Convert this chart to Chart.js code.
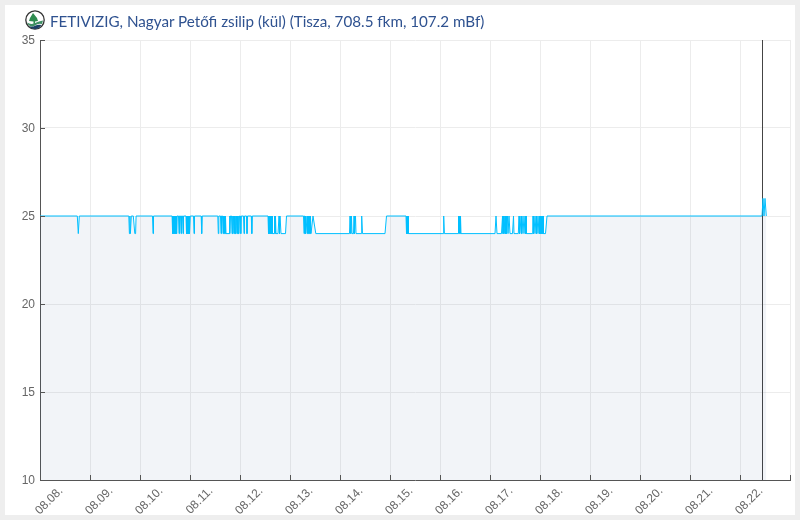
<!DOCTYPE html>
<html>
<head>
<meta charset="utf-8">
<script src="https://cdn.jsdelivr.net/npm/chart.js@4"></script>
<style>
  html, body { margin: 0; padding: 0; background: #eeeeee; }
  #panel { position: absolute; left: 5px; top: 5px; width: 790px; height: 510px; background: #fff; }
  #wrap { position: absolute; left: 0; top: 0; width: 800px; height: 520px; }
  #title { position: absolute; left: 25px; top: 10px; height: 20px; font: 15.2px Lato, sans-serif; color: #2f5290; white-space: nowrap; }
  #title svg { position: absolute; left: 0; top: 0; }
  #title span { position: absolute; left: 25px; top: 2px; }
</style>
</head>
<body>
<div id="panel"></div>
<div id="wrap"><canvas id="chart" width="800" height="520"></canvas></div>
<div id="title">
  <svg width="20" height="20" viewBox="0 0 20 20">
    <circle cx="10" cy="10" r="9.2" fill="#fff" stroke="#333" stroke-width="1.3"/>
    <path d="M8 3 L12 8 L13 11 L10 11.5 L10 14 L8.5 14 L8.5 11.5 L4 11 L5 8 Z" fill="#2e8b4f"/>
    <path d="M2 12.5 Q6 15 10 13 T18 10.5 L17 14 Q13 13 10 15.5 T3.5 15 Z" fill="#3f8f63"/>
    <path d="M4 16 Q7 17.5 10 15.8 T16.5 15 Q13 19.5 10 19 Q6 19 4 16 Z" fill="#1c3f66"/>
  </svg>
  <span>FETIVIZIG, Nagyar Petőfi zsilip (kül) (Tisza, 708.5 fkm, 107.2 mBf)</span>
</div>
<script>
const dayLabels = ['08.08.', '08.09.', '08.10.', '08.11.', '08.12.', '08.13.', '08.14.', '08.15.', '08.16.', '08.17.', '08.18.', '08.19.', '08.20.', '08.21.', '08.22.'];
const yTicks = [10, 15, 20, 25, 30, 35];
const markerDay = 14.45;

// water level readings, day offset from 08.08. and level, row by row
const readingDays = [
  0, 0.746, 0.766, 0.786,
  1.776, 1.788, 1.798, 1.808, 1.826, 1.866, 1.896, 1.912, 1.922,
  2.25, 2.26, 2.27,
  2.642, 2.652, 2.662, 2.672, 2.682, 2.692, 2.702, 2.712, 2.722, 2.732, 2.742,
  2.77, 2.78, 2.79, 2.81, 2.82, 2.83, 2.85, 2.86, 2.87,
  2.92, 2.93, 2.94, 2.95, 2.96, 2.97, 2.98, 2.984, 2.996, 3.006,
  3.07, 3.08, 3.09, 3.224, 3.234, 3.244, 3.556, 3.566, 3.576, 3.61, 3.62, 3.63,
  3.65, 3.66, 3.67, 3.68, 3.69, 3.70, 3.71, 3.72, 3.78, 3.79, 3.80, 3.81,
  3.83, 3.84, 3.85, 3.86, 3.87, 3.88, 3.89, 3.90, 3.91, 3.92, 3.93, 3.94, 3.95, 3.96, 3.97, 3.98, 3.99,
  4.006, 4.016, 4.026, 4.07, 4.08, 4.09, 4.13, 4.14, 4.15, 4.226, 4.236, 4.246,
  4.56, 4.57, 4.58, 4.59, 4.60, 4.61, 4.62, 4.63, 4.64, 4.65, 4.68, 4.69, 4.70, 4.71, 4.72,
  4.76, 4.78, 4.79, 4.80, 4.82, 4.91, 4.93,
  5.27, 5.28, 5.29, 5.30, 5.31, 5.32,
  5.33, 5.34, 5.35, 5.36, 5.37, 5.38, 5.39, 5.40, 5.41, 5.42, 5.46, 5.516,
  6.19, 6.20, 6.21, 6.22, 6.23, 6.24, 6.27, 6.28, 6.29, 6.31, 6.32, 6.42, 6.434, 6.45, 6.90, 6.93,
  7.32, 7.33, 7.34, 7.35, 7.36, 7.37, 7.38,
  8.06, 8.074, 8.088, 8.36, 8.37, 8.38, 8.39, 8.40, 8.41, 8.42,
  9.10, 9.12, 9.14,
  9.23, 9.25, 9.26, 9.27, 9.28, 9.30, 9.31, 9.32, 9.33, 9.35, 9.36, 9.38, 9.40, 9.45, 9.47, 9.48,
  9.566, 9.58, 9.59, 9.60, 9.62, 9.63, 9.64, 9.66, 9.68, 9.70, 9.71, 9.72, 9.73,
  9.854, 9.86, 9.87, 9.88, 9.90, 9.92, 9.93, 9.94, 9.96, 9.98, 9.99, 10.00, 10.01, 10.02, 10.03, 10.04, 10.05, 10.06, 10.07,
  10.11, 10.14,
  14.44, 14.46, 14.48, 14.50, 14.526
];
const readingLevels = [
  25, 25, 24, 25,
  25, 24, 25, 24, 25, 25, 24, 24, 25,
  25, 24, 25,
  25, 24, 25, 24, 25, 24, 25, 24, 25, 24, 25,
  25, 24, 25, 25, 24, 25, 25, 24, 25,
  25, 24, 25, 24, 25, 24, 25, 24, 24, 25,
  25, 24, 25, 25, 24, 25, 25, 24, 25, 25, 24, 25,
  25, 24, 25, 24, 25, 24, 25, 24, 24, 25, 24, 25,
  25, 24, 25, 24, 25, 24, 25, 24, 25, 24, 25, 24, 25, 24, 25, 24, 25,
  25, 24, 25, 25, 24, 25, 25, 24, 25, 25, 24, 25,
  25, 24, 25, 24, 25, 24, 25, 24, 25, 24, 24, 25, 24, 25, 24,
  24, 25, 24, 25, 24, 24, 25,
  25, 24, 25, 25, 24, 25,
  25, 24, 25, 24, 25, 24, 25, 24, 25, 24, 25, 24,
  24, 25, 24, 24, 25, 24, 24, 25, 24, 25, 24, 24, 25, 24, 24, 25,
  25, 24, 25, 24, 25, 24, 24,
  24, 25, 24, 24, 25, 24, 25, 24, 25, 24,
  24, 25, 24,
  24, 25, 24, 25, 24, 25, 24, 25, 24, 25, 24, 25, 24, 24, 25, 24,
  24, 25, 24, 25, 24, 25, 24, 25, 24, 25, 24, 25, 24,
  24, 25, 24, 25, 24, 25, 24, 25, 24, 25, 24, 25, 24, 25, 24, 25, 24, 25, 24,
  24, 25,
  25, 26, 25, 26, 25
];

const inlineTicks = {
  id: 'inlineTicks',
  afterDraw(chart) {
    const { ctx, scales: { x, y } } = chart;
    ctx.save();
    ctx.strokeStyle = '#555';
    ctx.lineWidth = 1;
    ctx.beginPath();
    x.ticks.forEach(t => {
      const px = Math.round(x.getPixelForValue(t.value)) + 0.5;
      ctx.moveTo(px, y.bottom);
      ctx.lineTo(px, y.bottom - 5);
    });
    y.ticks.forEach(t => {
      const py = Math.round(y.getPixelForValue(t.value)) + 0.5;
      ctx.moveTo(x.left, py);
      ctx.lineTo(x.left + 5, py);
    });
    ctx.stroke();
    ctx.restore();
  }
};

new Chart(document.getElementById('chart'), {
  type: 'line',
  data: {
    datasets: [
      {
        data: readingDays.map((d, i) => ({ x: d, y: readingLevels[i] })),
        borderColor: '#00bfff',
        borderWidth: 1,
        backgroundColor: 'rgba(40,60,130,0.06)',
        fill: 'start',
        pointRadius: 0,
        tension: 0
      },
      {
        data: [{ x: markerDay, y: 10 }, { x: markerDay, y: 35 }],
        borderColor: '#444',
        borderWidth: 1,
        pointRadius: 0,
        fill: false
      }
    ]
  },
  options: {
    responsive: false,
    animation: false,
    layout: { padding: { left: 0, right: 10, top: 40, bottom: 0 } },
    plugins: { legend: { display: false }, tooltip: { enabled: false } },
    scales: {
      x: {
        type: 'linear',
        min: 0,
        max: 15,
        afterBuildTicks(axis) { axis.ticks = dayLabels.concat('').map((_, i) => ({ value: i })); },
        afterFit(axis) { axis.height = 40; axis.paddingLeft = 0; axis.paddingRight = 0; },
        grid: { color: '#ececec', drawTicks: false },
        border: { color: '#555' },
        ticks: {
          callback: v => dayLabels[v] || '',
          minRotation: 45,
          maxRotation: 45,
          autoSkip: false,
          labelOffset: 21,
          padding: 4,
          color: '#666',
          font: { family: 'Liberation Sans', size: 12 }
        }
      },
      y: {
        min: 10,
        max: 35,
        afterBuildTicks(axis) { axis.ticks = yTicks.map(v => ({ value: v })); },
        afterFit(axis) { axis.width = 40; axis.paddingTop = 0; axis.paddingBottom = 0; },
        grid: { color: '#ececec', drawTicks: false },
        border: { color: '#555' },
        ticks: { padding: 5, labelOffset: 1, color: '#666', font: { family: 'Liberation Sans', size: 12 } }
      }
    }
  },
  plugins: [inlineTicks]
});
</script>
</body>
</html>
